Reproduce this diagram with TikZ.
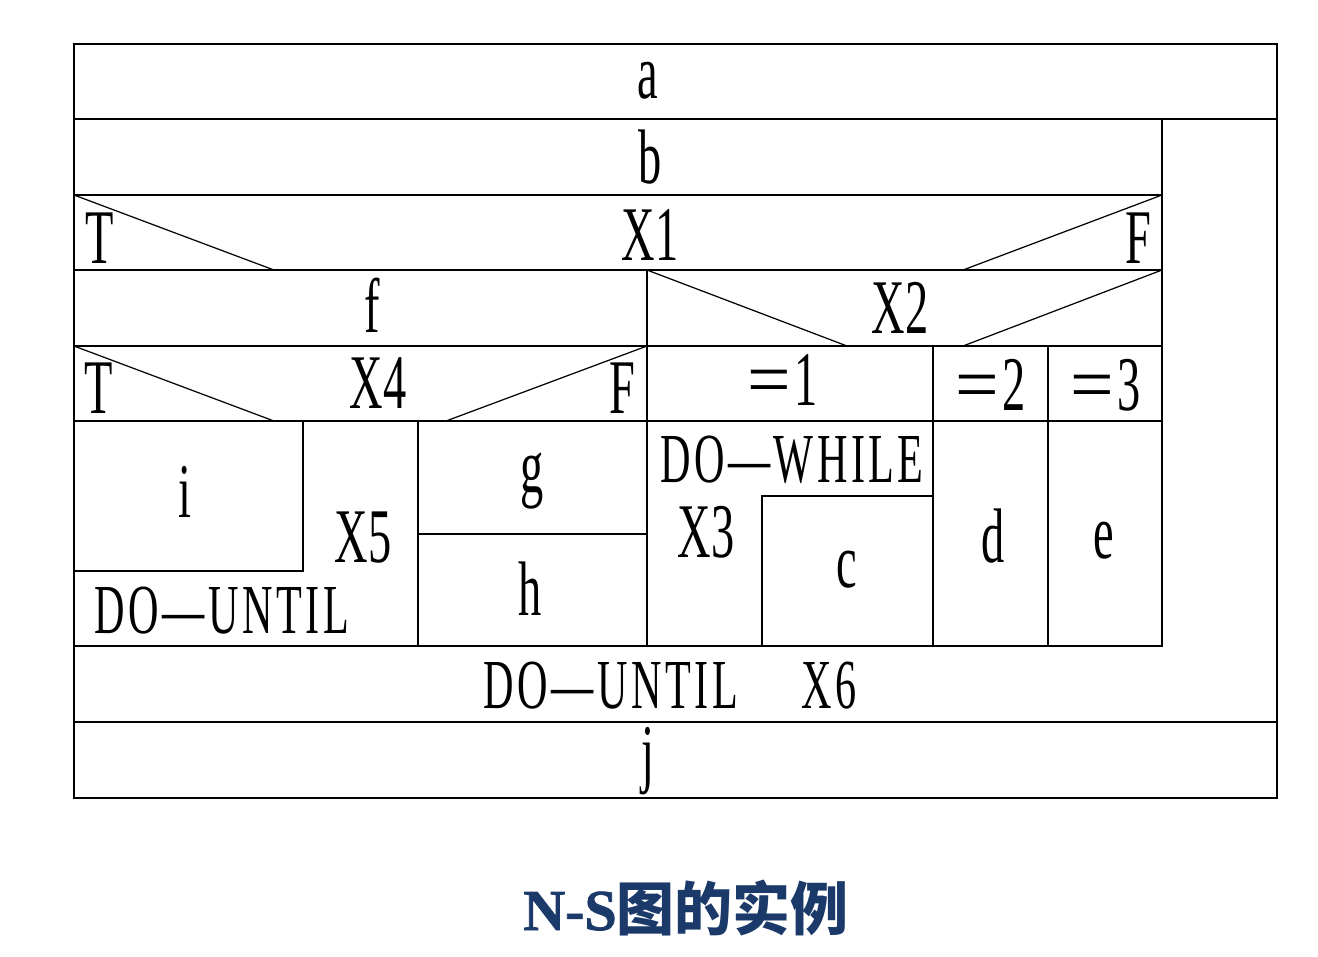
\documentclass[tikz,border=0pt]{standalone}
\usepackage{fontspec}
\usepackage{xcolor}
\usetikzlibrary{positioning}
\newfontfamily\nsfont[FakeStretch=0.6]{Liberation Serif}
\newfontfamily\nsloopfont[FakeStretch=0.6,LetterSpace=5]{Liberation Serif}
\newfontfamily\nseqfont{Liberation Serif}
\newfontfamily\titlelat[FakeBold=1.2]{Liberation Serif Bold}
\newfontfamily\titlecjk{Noto Sans CJK SC}
\definecolor{navy}{HTML}{1B3A6A}
\newcommand\caseeq[1]{{\nseqfont=}\hspace{2pt}#1}

\begin{document}
\begin{tikzpicture}[x=0.2mm, y=-0.2mm,
  lbl/.style={anchor=base, inner sep=0pt, font=\fontsize{44}{44}\selectfont\nsfont},
  loop/.style={anchor=base, inner sep=0pt, font=\fontsize{40}{40}\selectfont\nsloopfont},
  frame/.style={line width=1pt},
  diag/.style={line width=0.7pt}]
\useasboundingbox (0,0) rectangle (1318,956);
% outer frame and full-width rows
\draw[frame] (74,44) rectangle (1277,798);
\draw[frame] (74,119) -- (1277,119);
\draw[frame] (74,722) -- (1277,722);
% body of loop X6
\draw[frame] (1162,119) -- (1162,646) -- (74,646);
\draw[frame] (74,195) -- (1162,195);
\draw[frame] (74,270) -- (1162,270);
\draw[frame] (74,346) -- (1162,346);
\draw[frame] (74,421) -- (1162,421);
\draw[frame] (647,270) -- (647,646);
% decision X1
\draw[diag] (74,195) -- (274,270);
\draw[diag] (963,270) -- (1162,195);
% case X2
\draw[diag] (647,270) -- (847,346);
\draw[diag] (963,346) -- (1162,270);
\draw[frame] (933,346) -- (933,646);
\draw[frame] (1048,346) -- (1048,646);
% decision X4
\draw[diag] (74,346) -- (274,421);
\draw[diag] (446,421) -- (647,346);
% loop X5, g, h
\draw[frame] (74,571) -- (303,571) -- (303,421);
\draw[frame] (418,421) -- (418,646);
\draw[frame] (418,534) -- (647,534);
% loop X3
\draw[frame] (762,646) -- (762,496) -- (933,496);

\node[lbl] (a) at (648,98) {a};
\node[lbl] (b) at (650,183) {b};
\node[lbl] (x1) at (650,260) {X1};
\node[lbl] (t1) at (100,263) {T};
\node[lbl] (f1) at (1138,263) {F};
\node[lbl] (f) at (372,332) {f};
\node[lbl] (x2) at (900,333) {X2};
\node[lbl] (t4) at (99,413) {T};
\node[lbl] (x4) at (378,408) {X4};
\node[lbl] (f4) at (622,413) {F};
\node[lbl] (eq1) at (783,405) {\caseeq{1}};
\node[lbl] (eq2) at (991,410) {\caseeq{2}};
\node[lbl] (eq3) at (1106,410) {\caseeq{3}};
\node[lbl] (i) at (185,517) {i};
\node[lbl] (x5) at (363,562) {X5};
\node[loop] (until5) at (222,633) {DO—UNTIL};
\node[lbl] (g) at (532,492) {g};
\node[lbl] (h) at (530,615) {h};
\node[loop] (while3) at (792,482) {DO—WHILE};
\node[lbl] (x3) at (706,557) {X3};
\node[lbl] (c) at (847,587) {c};
\node[lbl] (d) at (993,562) {d};
\node[lbl] (e) at (1104,558) {e};
\node[loop] (until6) at (670,708) {DO—UNTIL\hspace{0.9em}X6};
\node[lbl] (j) at (648,778) {j};

\node[anchor=base, inner sep=0pt, text=navy, font=\fontsize{33}{33}\selectfont] (title) at (686,930)
  {{\titlelat N-S}{\titlecjk\bfseries 图的实例}};
\end{tikzpicture}
\end{document}
